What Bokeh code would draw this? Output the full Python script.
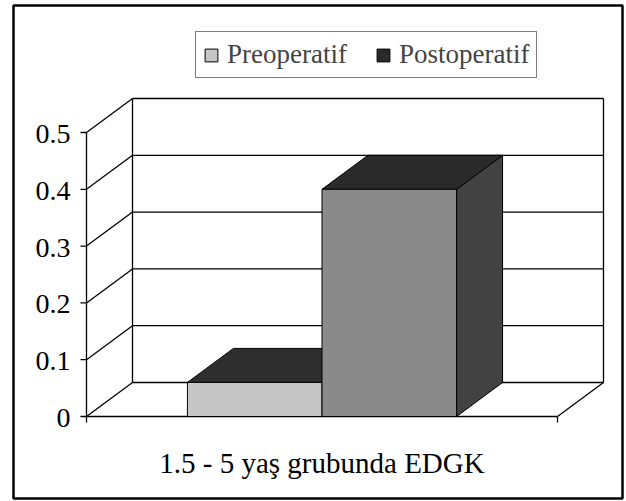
from bokeh.plotting import figure
from bokeh.models import Range1d, Legend, LegendItem
from bokeh.embed import file_html
from bokeh.resources import INLINE
from bokeh.core.properties import value

# ---------------- data ----------------
category = "1.5 - 5 yaş grubunda EDGK"
series_names = ["Preoperatif", "Postoperatif"]
series_values = [0.06, 0.40]
y_ticks = [0.0, 0.1, 0.2, 0.3, 0.4, 0.5]
y_tick_labels = ["0", "0.1", "0.2", "0.3", "0.4", "0.5"]

# ---------------- layout constants (canvas pixels) ----------------
PX_X = 471.0      # pixels per category unit
PX_Y = 568.0      # pixels per value unit
X0_PAGE = 86.0    # x of front axis
Y0_PAGE = 416.0   # y of value 0
W, H = 624, 500
FRAME_L, FRAME_R, FRAME_T, FRAME_B = 13, 622, 5, 498

DX = 46 / PX_X    # depth offset (x)
DY = 34 / PX_Y    # depth offset (y)
BAR_W = 1 / 3.5   # gap width 150%
GAP = 0.75 / 3.5

FONT = "'Liberation Serif', 'Times New Roman', serif"
front_colors = ["#c6c6c6", "#8a8a8a"]
top_colors = ["#2e2e2e", "#2a2a2a"]
side_colors = ["#3c3c3c", "#424242"]

p = figure(
    width=W, height=H,
    x_range=Range1d((FRAME_L - X0_PAGE) / PX_X, (FRAME_R - X0_PAGE) / PX_X),
    y_range=Range1d((Y0_PAGE - FRAME_B) / PX_Y, (Y0_PAGE - FRAME_T) / PX_Y),
    x_axis_type=None, y_axis_type=None,
    toolbar_location=None, output_backend="svg",
    min_border_left=FRAME_L, min_border_right=W - FRAME_R,
    min_border_top=FRAME_T, min_border_bottom=H - FRAME_B,
)
p.outline_line_color = "black"
p.outline_line_width = 2.5
p.background_fill_color = "white"
p.border_fill_color = "white"

ymax = y_ticks[-1]
n = len(y_ticks)
LC = "black"
LW = 1.3

# back-wall gridlines
p.segment(x0=[DX] * n, y0=[t + DY for t in y_ticks], x1=[1 + DX] * n,
          y1=[t + DY for t in y_ticks], line_color=LC, line_width=LW)
# left-wall diagonals
p.segment(x0=[0] * n, y0=y_ticks, x1=[DX] * n, y1=[t + DY for t in y_ticks],
          line_color=LC, line_width=LW)
# back wall edges
p.segment(x0=[DX, 1 + DX], y0=[DY, DY], x1=[DX, 1 + DX], y1=[ymax + DY, ymax + DY],
          line_color=LC, line_width=LW)
# front value axis
p.segment(x0=[0], y0=[0], x1=[0], y1=[ymax], line_color=LC, line_width=LW)
# floor: front edge and right diagonal
p.segment(x0=[0, 1], y0=[0, 0], x1=[1, 1 + DX], y1=[0, DY], line_color=LC, line_width=LW)
# value tick marks
p.segment(x0=[-6 / PX_X] * n, y0=y_ticks, x1=[0] * n, y1=y_ticks, line_color=LC, line_width=LW)
# category tick marks
p.segment(x0=[0, 1], y0=[0, 0], x1=[0, 1], y1=[-6 / PX_Y, -6 / PX_Y], line_color=LC, line_width=LW)

# bars
fronts, tops = [], []
for i, v in enumerate(series_values):
    x0 = GAP + i * BAR_W
    x1 = x0 + BAR_W
    side = p.patch(x=[x1, x1 + DX, x1 + DX, x1], y=[0, DY, v + DY, v],
                   fill_color=side_colors[i], line_color="black", line_width=1)
    top = p.patch(x=[x0, x1, x1 + DX, x0 + DX], y=[v, v, v + DY, v + DY],
                  fill_color=top_colors[i], line_color="black", line_width=1)
    front = p.quad(left=[x0], right=[x1], bottom=[0], top=[v],
                   fill_color=front_colors[i], line_color="black", line_width=1)
    fronts.append(front)
    tops.append(top)

# value tick labels
p.text(x=[-16 / PX_X] * n, y=[t - 1.5 / PX_Y for t in y_ticks], text=y_tick_labels,
       text_align="right", text_baseline="middle", text_font=value(FONT),
       text_font_size="28px", text_color="black")

# category label
p.text(x=[0.5], y=[-46 / PX_Y], text=[category], text_align="center",
       text_baseline="alphabetic", text_font=value(FONT), text_font_size="29px",
       text_color="black")

legend = Legend(
    items=[LegendItem(label=series_names[0], renderers=[fronts[0]]),
           LegendItem(label=series_names[1], renderers=[tops[1]])],
    location=(195 - FRAME_L, FRAME_B - 78), orientation="horizontal",
    label_text_font=FONT, label_text_font_size="27px",
    glyph_width=16, glyph_height=16, label_standoff=8, spacing=28,
    padding=7, margin=0, border_line_color="black", border_line_width=1.5,
    background_fill_color="white", background_fill_alpha=1.0,
)
p.add_layout(legend, "center")

open("out.html", "w").write(file_html(p, INLINE))
